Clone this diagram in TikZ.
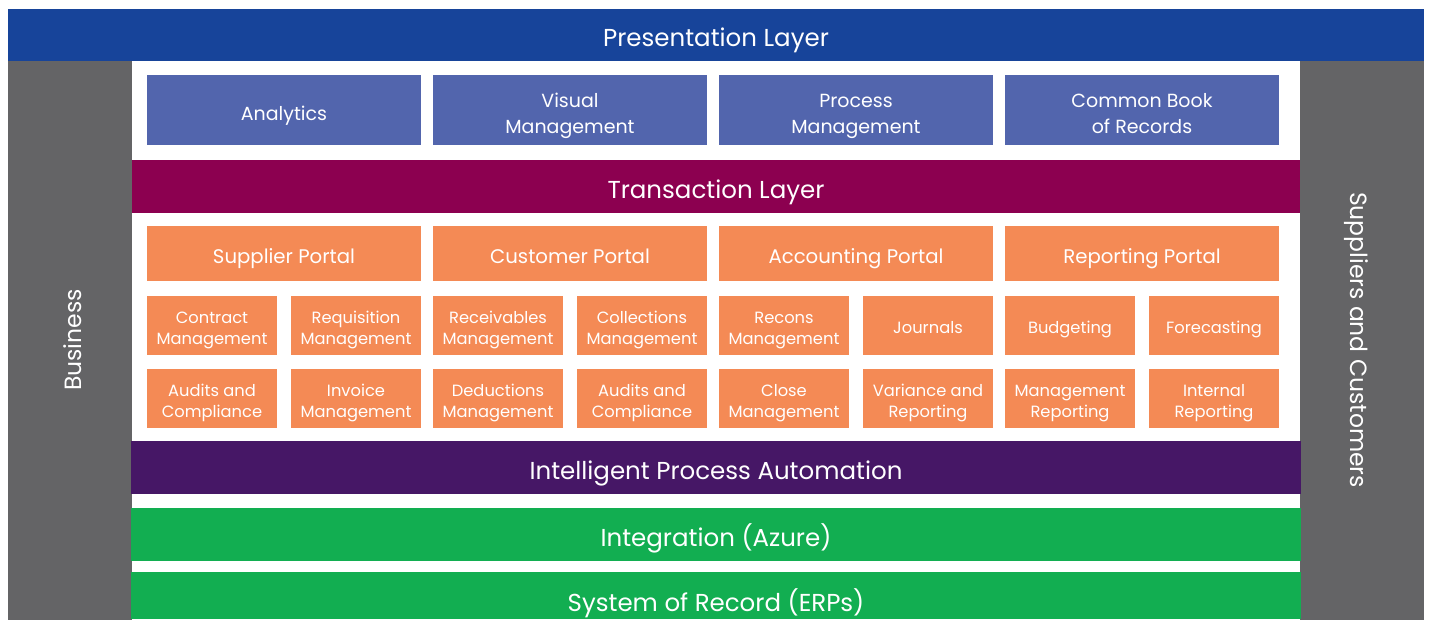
\documentclass[tikz,border=0pt]{standalone}
\usepackage{fontspec}
\setmainfont{Poppins}
\usetikzlibrary{positioning}
\definecolor{presblue}{HTML}{17449A}
\definecolor{appblue}{HTML}{5265AD}
\definecolor{transred}{HTML}{8C0050}
\definecolor{taskorange}{HTML}{F48A55}
\definecolor{ipapurple}{HTML}{461766}
\definecolor{intgreen}{HTML}{12AE51}
\definecolor{sidegray}{HTML}{646466}

\begin{document}
\begin{tikzpicture}[x=1pt,y=-1pt,
    every node/.append style={outer sep=0pt, inner sep=0pt, text=white},
    % struts: fixed height and depth of the text box
    lift/.style 2 args={execute at begin node={\rule{0pt}{#1}},
      execute at end node={\rule[-#2]{0pt}{#2}}},
    % bars and boxes
    bar/.style={fill=#1, lift={31.2pt}{8pt}, font=\fontsize{24.5}{28}\selectfont},
    side/.style={fill=sidegray, lift={31.5pt}{8pt},
      minimum width=559pt, minimum height=124pt, font=\fontsize{23.5}{27}\selectfont},
    app/.style={fill=appblue, align=center, lift={29.3pt}{8pt},
      minimum width=274pt, minimum height=70pt, font=\fontsize{19}{26}\selectfont},
    apptwo/.style={app, lift={55.3pt}{8pt}},
    portal/.style={fill=taskorange, lift={27.8pt}{8pt},
      minimum width=274pt, minimum height=55pt, font=\fontsize{19.7}{23}\selectfont},
    task/.style={fill=taskorange, align=center, lift={24.4pt}{8pt},
      minimum width=130pt, minimum height=59pt, font=\fontsize{16.3}{20.5}\selectfont},
    tasktwo/.style={task, lift={45.6pt}{8pt}}]
  \useasboundingbox (0,0) rectangle (1429,619);
  \fill[white] (0,0) rectangle (1429,619);

  % frame
  \node[side, rotate=90] (business) at (70,340) {Business};
  \node[side, rotate=-90] (partners) at (1362,340) {Suppliers and Customers};
  \node[bar=presblue, minimum width=1416pt, minimum height=52pt] (pres) at (716,35) {Presentation Layer};

  % presentation apps
  \node[app] (analytics) at (284,110) {Analytics};
  \node[apptwo, right=12pt of analytics] (visual) {Visual\\Management};
  \node[apptwo, right=12pt of visual] (process) {Process\\Management};
  \node[apptwo, right=12pt of process] (records) {Common Book\\of Records};

  \node[bar=transred, minimum width=1168pt, minimum height=53pt] (trans) at (716,186.5) {Transaction Layer};

  % portals
  \node[portal] (supplier) at (284,253.5) {Supplier Portal};
  \node[portal, right=12pt of supplier] (customer) {Customer Portal};
  \node[portal, right=12pt of customer] (accounting) {Accounting Portal};
  \node[portal, right=12pt of accounting] (reporting) {Reporting Portal};

  % task tiles, first row
  \node[tasktwo] (contract) at (212,325.5) {Contract\\Management};
  \node[tasktwo, right=14pt of contract] (requisition) {Requisition\\Management};
  \node[tasktwo, right=12pt of requisition] (receivables) {Receivables\\Management};
  \node[tasktwo, right=14pt of receivables] (collections) {Collections\\Management};
  \node[tasktwo, right=12pt of collections] (recons) {Recons\\Management};
  \node[task, right=14pt of recons] (journals) {Journals};
  \node[task, right=12pt of journals] (budgeting) {Budgeting};
  \node[task, right=14pt of budgeting] (forecasting) {Forecasting};

  % task tiles, second row
  \node[tasktwo, below=14pt of contract] (audits) {Audits and\\Compliance};
  \node[tasktwo, below=14pt of requisition] (invoice) {Invoice\\Management};
  \node[tasktwo, below=14pt of receivables] (deductions) {Deductions\\Management};
  \node[tasktwo, below=14pt of collections] (audits2) {Audits and\\Compliance};
  \node[tasktwo, below=14pt of recons] (close) {Close\\Management};
  \node[tasktwo, below=14pt of journals] (variance) {Variance and\\Reporting};
  \node[tasktwo, below=14pt of budgeting] (mgmtrep) {Management\\Reporting};
  \node[tasktwo, below=14pt of forecasting] (internal) {Internal\\Reporting};

  \node[bar=ipapurple, minimum width=1170pt, minimum height=53pt] (ipa) at (716,467.5) {Intelligent Process Automation};
  \node[bar=intgreen, minimum width=1170pt, minimum height=53pt] (azure) at (716,534.5) {Integration (Azure)};
  \node[fill=intgreen, minimum width=1170pt, minimum height=47pt] (erp) at (716,595.5) {};
  \node[anchor=base, font=\fontsize{24.5}{28}\selectfont] (erptext) at (716,611) {System of Record (ERPs)};
\end{tikzpicture}
\end{document}
